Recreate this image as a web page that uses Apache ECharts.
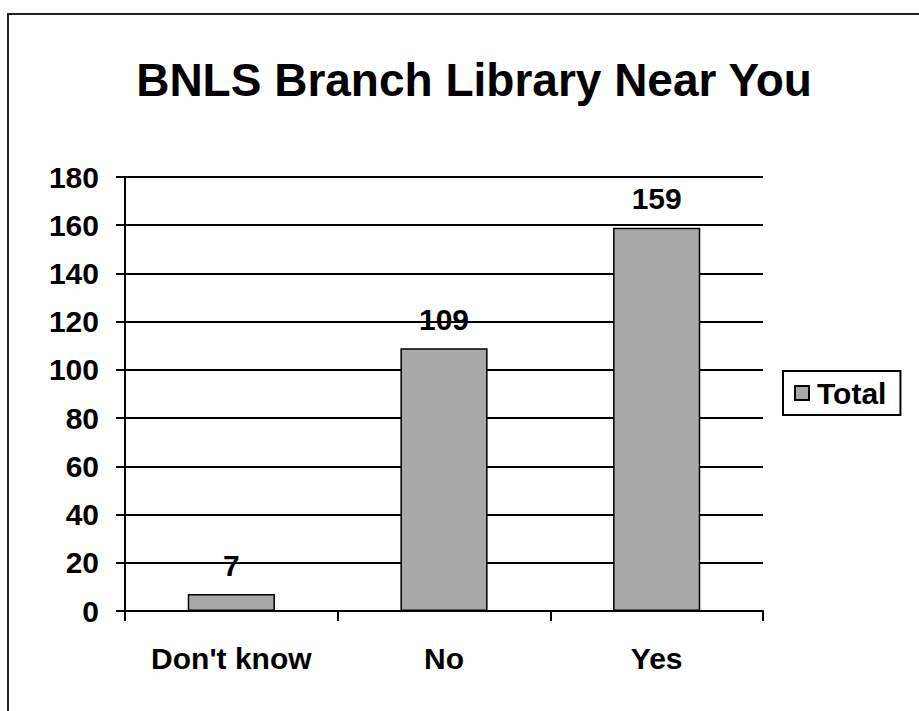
<!DOCTYPE html>
<html>
<head>
<meta charset="utf-8">
<script src="https://cdn.jsdelivr.net/npm/echarts@6/dist/echarts.min.js"></script>
<style>
  html, body { margin: 0; padding: 0; background: #fff; }
  #chart { width: 919px; height: 711px; }
</style>
</head>
<body>
<div id="chart"></div>
<script>
const categories = ['Don\'t know', 'No', 'Yes']
const totals = [7, 109, 159]
const yTicks = [0, 20, 40, 60, 80, 100, 120, 140, 160, 180]

const font = '"Liberation Sans", Arial, sans-serif'
const chart = echarts.init(document.getElementById('chart'), null, { renderer: 'svg' })

chart.setOption({
  animation: false,
  backgroundColor: '#fff',
  textStyle: { fontFamily: font },
  graphic: [
    {
      type: 'rect',
      shape: { x: 8, y: 14, width: 930, height: 720 },
      style: { fill: 'none', stroke: '#222', lineWidth: 2 },
      silent: true
    }
  ],
  title: {
    text: 'BNLS Branch Library Near You',
    left: 469,
    top: 52,
    textAlign: 'center',
    textStyle: { fontFamily: font, fontSize: 46, fontWeight: 'bold', color: '#000' }
  },
  legend: {
    data: ['Total'],
    left: 783,
    top: 371,
    orient: 'vertical',
    padding: [7, 14, 7, 11],
    borderColor: '#000',
    borderWidth: 2,
    itemWidth: 14,
    itemHeight: 14,
    itemGap: 0,
    icon: 'rect',
    textStyle: { fontFamily: font, fontSize: 30, fontWeight: 'bold', color: '#000', padding: [0, 0, 0, 3] }
  },
  grid: { left: 125, right: 156, top: 177, bottom: 100, containLabel: false },
  xAxis: {
    type: 'category',
    data: categories,
    axisLine: { lineStyle: { color: '#000', width: 2 } },
    axisTick: { show: true, length: 10, alignWithLabel: false, lineStyle: { color: '#000', width: 2 } },
    axisLabel: { fontFamily: font, fontSize: 30, fontWeight: 'bold', color: '#000', margin: 32 }
  },
  yAxis: {
    type: 'value',
    min: yTicks[0],
    max: yTicks[yTicks.length - 1],
    interval: 20,
    axisLine: { show: true, lineStyle: { color: '#000', width: 2 } },
    axisTick: { show: true, length: 9, lineStyle: { color: '#000', width: 2 } },
    axisLabel: { fontFamily: font, fontSize: 30, fontWeight: 'bold', color: '#000', margin: 26 },
    splitLine: { show: true, lineStyle: { color: '#000', width: 2 } }
  },
  series: [
    {
      name: 'Total',
      type: 'bar',
      data: totals,
      barWidth: '41%',
      itemStyle: { color: '#a9a9a9', borderColor: '#000', borderWidth: 1.5 },
      label: {
        show: true,
        position: 'top',
        distance: 14,
        fontFamily: font,
        fontSize: 30,
        fontWeight: 'bold',
        color: '#000'
      }
    }
  ]
})
</script>
</body>
</html>
